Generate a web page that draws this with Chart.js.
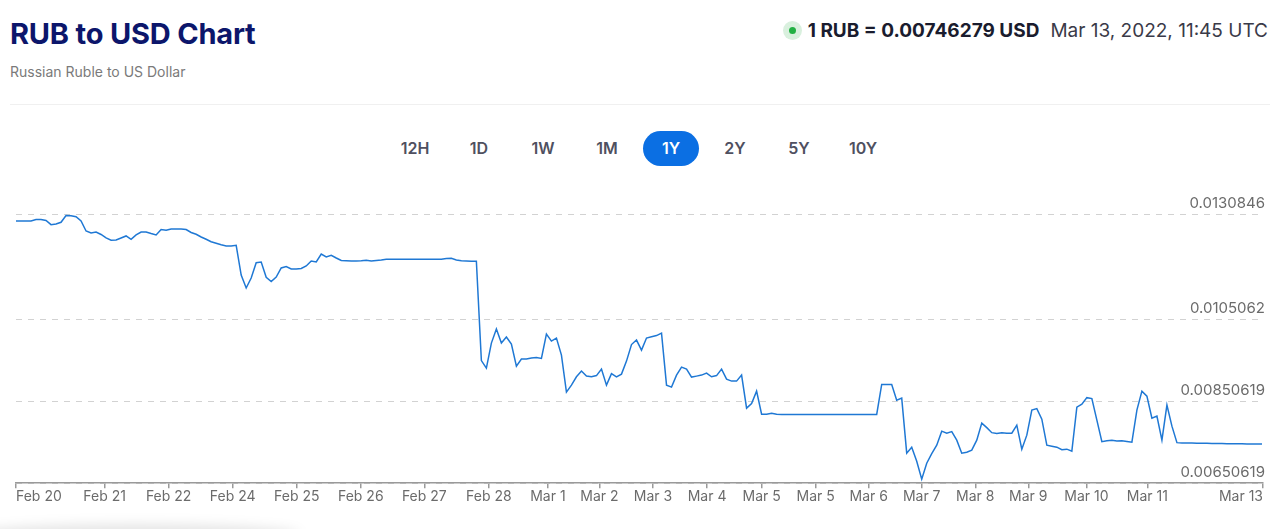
<!DOCTYPE html>
<html lang="en">
<head>
  <meta charset="UTF-8">
  <title>RUB to USD Chart</title>
  <script src="https://cdn.jsdelivr.net/npm/chart.js"></script>
  <style>
body {
  margin: 0;
  width: 1280px;
  height: 529px;
  background: #fff;
  font-family: Inter, "Noto Sans", sans-serif;
  position: relative;
  overflow: hidden;
}
.title {
  position: absolute;
  left: 10px;
  top: 16px;
  font-size: 29px;
  font-weight: 700;
  color: #0c166b;
  letter-spacing: -0.2px;
}
.subtitle {
  position: absolute;
  left: 10px;
  top: 63px;
  font-size: 14px;
  color: #7a7a7a;
}
.divider {
  position: absolute;
  left: 10px;
  right: 10px;
  top: 104px;
  border-top: 1px solid #f0f0f0;
}
.rate {
  position: absolute;
  right: 12px;
  top: 19px;
  font-size: 19px;
  display: flex;
  align-items: center;
}
.dot {
  width: 19px;
  height: 19px;
  border-radius: 50%;
  background: #d9f0de;
  display: flex;
  align-items: center;
  justify-content: center;
  margin-right: 6px;
}
.dot span {
  width: 7px;
  height: 7px;
  border-radius: 50%;
  background: #22b043;
}
.rate b { color: #1a1c2e; margin-right: 11px; }
.rate .time { color: #3a3a48; }
.ranges {
  position: absolute;
  top: 131px;
  left: 383px;
  display: flex;
}
.range {
  width: 64px;
  height: 35px;
  line-height: 35px;
  text-align: center;
  font-size: 16px;
  font-weight: 600;
  color: #4f5060;
  border-radius: 18px;
}
.range.active {
  background: #0b6fe3;
  color: #fff;
  width: 56px;
  margin: 0 4px;
}
.shade {
  position: absolute;
  left: -30px;
  top: 524px;
  width: 330px;
  height: 20px;
  background: rgba(0,0,0,0.10);
  filter: blur(6px);
  border-radius: 50%;
}
.chart-box {
  position: absolute;
  left: 0;
  top: 186px;
  width: 1280px;
  height: 343px;
}
  </style>
</head>
<body>
  <div class="title">RUB to USD Chart</div>
  <div class="subtitle">Russian Ruble to US Dollar</div>
  <div class="divider"></div>
  <div class="rate">
    <div class="dot"><span></span></div>
    <b>1 RUB = 0.00746279 USD</b>
    <span class="time">Mar 13, 2022, 11:45 UTC</span>
  </div>
  <div class="ranges">
    <div class="range">12H</div>
    <div class="range">1D</div>
    <div class="range">1W</div>
    <div class="range">1M</div>
    <div class="range active">1Y</div>
    <div class="range">2Y</div>
    <div class="range">5Y</div>
    <div class="range">10Y</div>
  </div>

  <div class="chart-box">
    <canvas id="rateChart"></canvas>
  </div>
  <div class="shade"></div>

  <script>
    // RUB -> USD, one reading per sample step
    const rates = [
      0.012915, 0.012915, 0.012915, 0.012915, 0.012951, 0.012951, 0.012927, 0.012824, 0.012841, 0.012883,
      0.013049, 0.013044, 0.013017, 0.012915, 0.012670, 0.012621, 0.012645, 0.012584, 0.012499, 0.012445,
      0.012450, 0.012499, 0.012548, 0.012467, 0.012572, 0.012645, 0.012645, 0.012606, 0.012572, 0.012707,
      0.012690, 0.012719, 0.012719, 0.012719, 0.012704, 0.012633, 0.012589, 0.012523, 0.012467, 0.012406,
      0.012369, 0.012332, 0.012303, 0.012303, 0.012320, 0.011594, 0.011276, 0.011520, 0.011895, 0.011912,
      0.011537, 0.011435, 0.011545, 0.011765, 0.011802, 0.011740, 0.011740, 0.011753, 0.011814, 0.011936,
      0.011912, 0.012107, 0.012034, 0.012076, 0.012010, 0.011948, 0.011941, 0.011936, 0.011936, 0.011943,
      0.011956, 0.011936, 0.011948, 0.011961, 0.011978, 0.011978, 0.011978, 0.011978, 0.011978, 0.011978,
      0.011978, 0.011978, 0.011978, 0.011978, 0.011978, 0.011978, 0.011997, 0.012002, 0.011961, 0.011941,
      0.011936, 0.011931, 0.011929, 0.009502, 0.009319, 0.009930, 0.010273, 0.009930, 0.010077, 0.009906,
      0.009368, 0.009539, 0.009539, 0.009564, 0.009576, 0.009556, 0.010151, 0.009979, 0.010053, 0.009637,
      0.008732, 0.008903, 0.009106, 0.009246, 0.009123, 0.009106, 0.009136, 0.009294, 0.008903, 0.009184,
      0.009106, 0.009172, 0.009490, 0.009894, 0.010004, 0.009759, 0.010053, 0.010084, 0.010114, 0.010175,
      0.008903, 0.008854, 0.009148, 0.009343, 0.009294, 0.009099, 0.009123, 0.009148, 0.009197, 0.009106,
      0.009136, 0.009294, 0.009050, 0.009001, 0.009001, 0.009148, 0.008341, 0.008455, 0.008756, 0.008194,
      0.008194, 0.008218, 0.008194, 0.008186, 0.008186, 0.008186, 0.008186, 0.008186, 0.008186, 0.008186,
      0.008186, 0.008186, 0.008186, 0.008186, 0.008186, 0.008186, 0.008186, 0.008186, 0.008186, 0.008186,
      0.008186, 0.008186, 0.008186, 0.008920, 0.008920, 0.008920, 0.008536, 0.008585, 0.007240, 0.007387,
      0.007044, 0.006604, 0.006995, 0.007228, 0.007435, 0.007778, 0.007729, 0.007766, 0.007558, 0.007240,
      0.007264, 0.007313, 0.007558, 0.007974, 0.007864, 0.007741, 0.007722, 0.007736, 0.007729, 0.007729,
      0.007925, 0.007338, 0.007680, 0.008292, 0.008328, 0.008071, 0.007435, 0.007411, 0.007387, 0.007325,
      0.007338, 0.007289, 0.008365, 0.008438, 0.008597, 0.008573, 0.008047, 0.007521, 0.007541, 0.007553,
      0.007538, 0.007546, 0.007528, 0.007509, 0.008292, 0.008756, 0.008634, 0.008096, 0.008145, 0.007558,
      0.008414, 0.007900, 0.007497, 0.007489, 0.007486, 0.007487, 0.007483, 0.007480, 0.007482, 0.007478,
      0.007476, 0.007477, 0.007473, 0.007470, 0.007471, 0.007468, 0.007466, 0.007467, 0.007464, 0.007463
    ];

    // x-axis ticks, positions in sample steps
    const tickAt = [0, 17.7, 30.5, 43.3, 56.1, 68.9, 81.6, 94.5, 106.3, 116.6, 127.3,
                    138.1, 149, 159.8, 170.4, 181, 191.7, 202.3, 213.9, 226.1, 249.2];
    const tickLabels = ['Feb 20', 'Feb 21', 'Feb 22', 'Feb 24', 'Feb 25', 'Feb 26', 'Feb 27', 'Feb 28',
                        'Mar 1', 'Mar 2', 'Mar 3', 'Mar 4', 'Mar 5', 'Mar 5', 'Mar 6', 'Mar 7', 'Mar 8',
                        'Mar 9', 'Mar 10', 'Mar 11', 'Mar 13'];

    const yTicks = [0.00650619, 0.00850619, 0.0105062, 0.0130846];
    const yTickLabels = ['0.00650619', '0.00850619', '0.0105062', '0.0130846'];

    const ctx = document.getElementById('rateChart').getContext('2d');

    new Chart(ctx, {
      type: 'line',
      data: {
        datasets: [{
          label: 'RUB to USD',
          data: rates.map((v, i) => ({ x: i, y: v })),
          borderColor: '#1f78d4',
          borderWidth: 1.5,
          pointRadius: 0,
          tension: 0,
          fill: false
        }]
      },
      options: {
        responsive: true,
        maintainAspectRatio: false,
        animation: false,
        layout: {
          padding: { left: 16, right: 13, top: 0, bottom: 24 }
        },
        plugins: {
          legend: { display: false },
          tooltip: { enabled: false }
        },
        scales: {
          x: {
            type: 'linear',
            min: 0,
            max: 249.2,
            afterBuildTicks: (scale) => {
              scale.ticks = tickAt.map(v => ({ value: v }));
            },
            ticks: {
              autoSkip: false,
              maxRotation: 0,
              align: 'inner',
              padding: 0,
              color: '#6b6b6b',
              font: { family: 'Inter', size: 14 },
              callback: (value, index) => tickLabels[index]
            },
            grid: {
              drawOnChartArea: false,
              drawTicks: true,
              tickLength: 5,
              color: '#9a9a9a',
              lineWidth: 1.5
            },
            border: { display: true, color: '#9a9a9a', width: 1.5 }
          },
          y: {
            position: 'right',
            min: 0.00650619,
            max: 0.0135001,
            afterBuildTicks: (scale) => {
              scale.ticks = yTicks.map(v => ({ value: v }));
            },
            ticks: {
              mirror: true,
              padding: 2,
              labelOffset: -11,
              color: '#6b6b6b',
              font: { family: 'Inter', size: 15 },
              callback: (value, index) => yTickLabels[index]
            },
            grid: {
              drawTicks: false,
              color: '#d2d2d2',
              lineWidth: 1
            },
            border: { display: false, dash: [6, 6] }
          }
        }
      }
    });
  </script>
</body>
</html>
